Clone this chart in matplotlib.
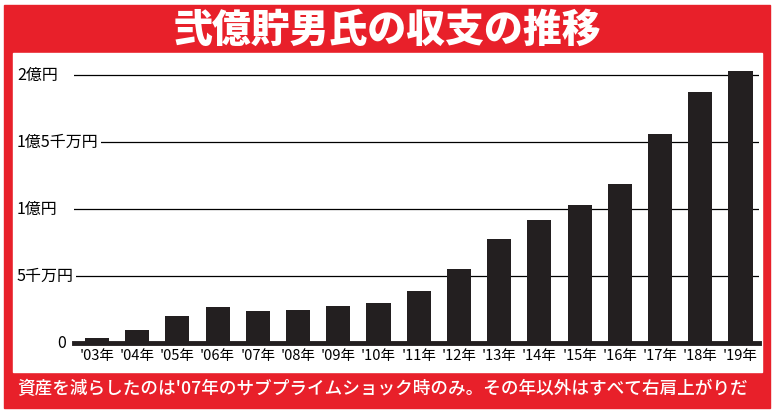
import matplotlib.pyplot as plt
from matplotlib.patches import Rectangle

plt.rcParams['font.family'] = ['Noto Sans CJK JP', 'DejaVu Sans']

# data (unit: 億円)
years = ["'03年", "'04年", "'05年", "'06年", "'07年", "'08年", "'09年", "'10年", "'11年",
         "'12年", "'13年", "'14年", "'15年", "'16年", "'17年", "'18年", "'19年"]
assets = [0.04, 0.10, 0.20, 0.27, 0.24, 0.25, 0.275, 0.30, 0.39,
          0.55, 0.775, 0.915, 1.03, 1.19, 1.56, 1.87, 2.03]
y_ticks = [0, 0.5, 1.0, 1.5, 2.0]
y_labels = ['0', '5千万円', '1億円', '1億5千万円', '2億円']

title = '弐億貯男氏の収支の推移'
footer = "資産を減らしたのは'07年のサブプライムショック時のみ。その年以外はすべて右肩上がりだ"

red = '#e8202a'
bar_color = '#231f20'

W, H = 774, 413
fig = plt.figure(figsize=(W / 100, H / 100), dpi=100)


def px(x0, y0, x1, y1):
    # pixel box (top-left origin) -> figure fraction rect
    return (x0 / W, 1 - y1 / H), (x1 - x0) / W, (y1 - y0) / H


xy, w, h = px(4, 5, 770, 408)
fig.patches.append(Rectangle(xy, w, h, transform=fig.transFigure, color=red, zorder=-2))
xy, w, h = px(13, 53, 762, 372)
fig.patches.append(Rectangle(xy, w, h, transform=fig.transFigure, color='white', zorder=-1))

fig.text(0.5, 1 - 30 / H, title, ha='center', va='center', color='white',
         fontsize=28, fontweight='heavy')
fig.text(17 / W, 1 - 389 / H, footer, ha='left', va='center', color='white',
         fontsize=12.7, fontweight='medium')

ax = fig.add_axes([74 / W, 1 - 343 / H, 685 / W, 283 / H])
ax.patch.set_visible(False)
x = list(range(len(years)))
ax.bar(x, assets, width=0.6, color=bar_color, zorder=3)

for t in y_ticks[1:]:
    ax.axhline(t, color='black', lw=0.9, zorder=1)
ax.axhline(0, color=bar_color, lw=3.5, zorder=4, clip_on=False)

ax.set_xlim(-0.57, 16.46)
ax.set_ylim(0, 2.112)
for s in ax.spines.values():
    s.set_visible(False)

ax.set_xticks(x)
ax.set_xticklabels(years, fontsize=10.5)
ax.tick_params(axis='x', length=0, pad=4)
ax.set_yticks([])

ytr = ax.get_yaxis_transform()
for t, lab in zip(y_ticks, y_labels):
    if t == 0:
        ax.text(-0.012, t, lab, transform=ytr, ha='right', va='center', fontsize=11.5)
    else:
        ax.text(-57 / 685, t, lab, transform=ytr, ha='left', va='center', fontsize=11.5,
                zorder=5, bbox=dict(facecolor='white', edgecolor='none', pad=1.5))

fig.savefig('out.png', dpi=100)
